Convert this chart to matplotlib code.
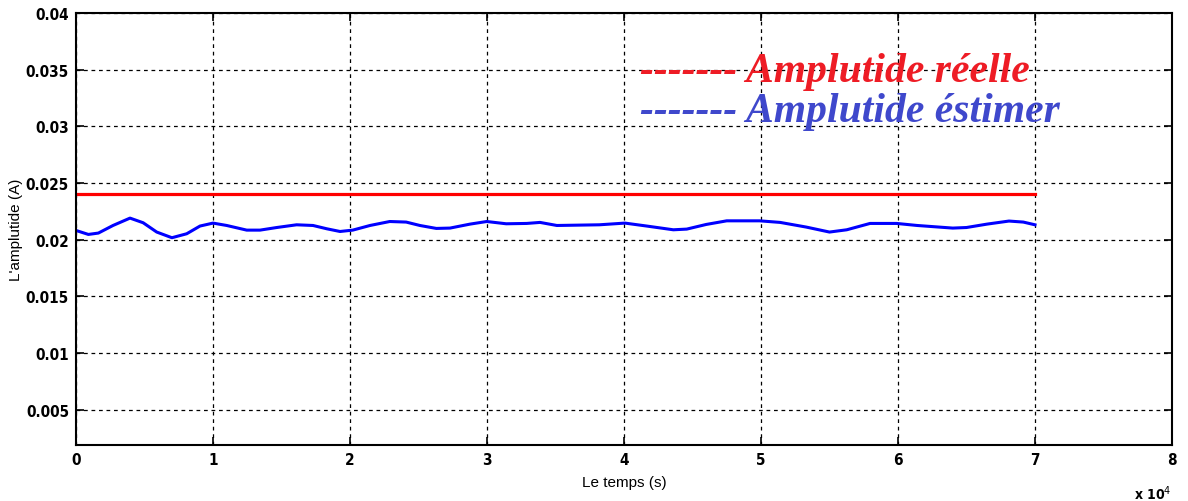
import matplotlib.pyplot as plt

# time in units of 1e4 s
t_reel = [0, 7]
amp_reel = [0.024, 0.024]

t_est = [0, 0.09, 0.163, 0.27, 0.394, 0.49, 0.589, 0.70, 0.808, 0.905, 1.0, 1.1,
         1.246, 1.343, 1.465, 1.61, 1.73, 1.83, 1.927, 2.02, 2.146, 2.29, 2.41,
         2.51, 2.63, 2.73, 2.876, 2.998, 3.14, 3.29, 3.387, 3.51, 3.82, 4.007,
         4.166, 4.36, 4.458, 4.6, 4.75, 4.99, 5.14, 5.33, 5.50, 5.626, 5.796,
         5.99, 6.14, 6.40, 6.50, 6.65, 6.81, 6.915, 7.0]
amp_est = [0.02082, 0.02047, 0.02059, 0.02126, 0.02191, 0.0215, 0.02068, 0.02018,
           0.02053, 0.02121, 0.02147, 0.02126, 0.02085, 0.02085, 0.02108, 0.02132,
           0.02126, 0.02097, 0.02073, 0.02085, 0.02126, 0.02161, 0.02156, 0.02126,
           0.021, 0.02103, 0.02138, 0.02161, 0.02141, 0.02144, 0.02153, 0.02126,
           0.02132, 0.02147, 0.02121, 0.02088, 0.02094, 0.02135, 0.02167, 0.02167,
           0.02153, 0.02112, 0.02068, 0.02088, 0.02144, 0.02144, 0.02126, 0.02103,
           0.02108, 0.02138, 0.02165, 0.02156, 0.02132]

x_ticks = [0, 1, 2, 3, 4, 5, 6, 7, 8]
y_ticks = [0.005, 0.01, 0.015, 0.02, 0.025, 0.03, 0.035, 0.04]
y_labels = ['0.005', '0.01', '0.015', '0.02', '0.025', '0.03', '0.035', '0.04']

tick_font = dict(family='DejaVu Sans', stretch='condensed', weight='bold', size=11)

fig = plt.figure(figsize=(11.88, 5.02), dpi=100)
ax = fig.add_axes([0.064, 0.1116, 0.9225, 0.8605])

ax.plot(t_reel, amp_reel, color='#ff0000', linewidth=2.3)
ax.plot(t_est, amp_est, color='#0000ff', linewidth=2.2)

ax.set_xlim(0, 8)
ax.set_ylim(0.0019, 0.04)
ax.set_xticks(x_ticks)
ax.set_xticklabels([str(v) for v in x_ticks], fontdict=tick_font)
ax.set_yticks(y_ticks)
ax.set_yticklabels(y_labels, fontdict=tick_font)
ax.tick_params(direction='in', length=6, width=1.2, top=True, right=True, pad=5)

ax.grid(True, color='black', linestyle=(0, (3, 3)), linewidth=0.9)
for s in ax.spines.values():
    s.set_linewidth(1.5)

ax.set_xlabel('Le temps (s)', fontsize=11, family='Liberation Sans', labelpad=6)
ax.set_ylabel("L'amplutide (A)", fontsize=11, family='Liberation Sans', labelpad=2)
ax.text(1.0, -0.11, r'x 10$^{4}$', transform=ax.transAxes, ha='right', va='center',
        fontsize=10, fontweight='bold', family='DejaVu Sans', stretch='condensed')

leg_font = dict(family='Liberation Serif', style='italic', weight='bold', size=30)
ax.text(0.515, 0.866, '------- Amplutide réelle', transform=ax.transAxes,
        color='#ee1c25', va='center', ha='left', **leg_font)
ax.text(0.515, 0.773, '------- Amplutide éstimer', transform=ax.transAxes,
        color='#3f48cc', va='center', ha='left', **leg_font)

fig.savefig('out.png', dpi=100)
